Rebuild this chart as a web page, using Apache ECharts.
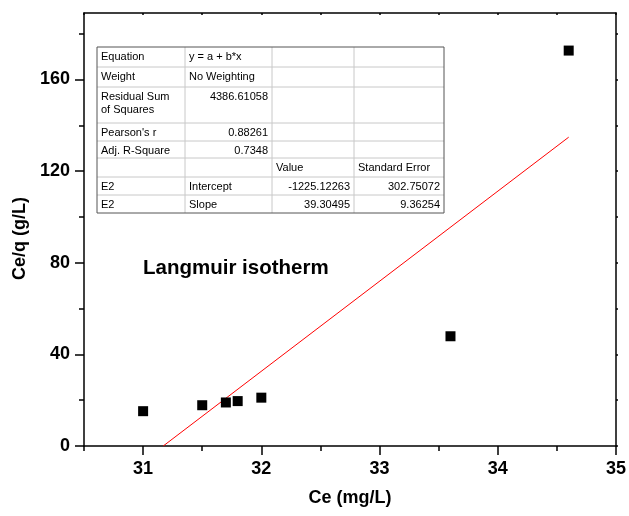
<!DOCTYPE html>
<html>
<head>
<meta charset="utf-8">
<script src="https://cdn.jsdelivr.net/npm/echarts@6/dist/echarts.min.js"></script>
<style>
  html, body { margin: 0; padding: 0; background: #fff; }
  #chart { width: 629px; height: 516px; }
</style>
</head>
<body>
<div id="chart"></div>
<script>
// measured points (Ce, Ce/q)
const ceValues = [31.0, 31.5, 31.7, 31.8, 32.0, 33.6, 34.6]
const ceqValues = [15.2, 17.8, 19.0, 19.6, 21.1, 47.9, 172.6]
// linear fit end points, y = -1225.12263 + 39.30495 x, clipped at y = 0
const fitX = [31.17, 34.6]
const fitY = [0, 134.8]
// ticks
const xMajorTicks = [31, 32, 33, 34, 35]
const xMinorTicks = [30.5, 31.5, 32.5, 33.5, 34.5]
const yMajorTicks = [0, 40, 80, 120, 160]
const yMinorTicks = [20, 60, 100, 140, 180]
// fit report table
const tableRows = [
  ['Equation', 'y = a + b*x', '', ''],
  ['Weight', 'No Weighting', '', ''],
  ['Residual Sum\nof Squares', '4386.61058', '', ''],
  ["Pearson's r", '0.88261', '', ''],
  ['Adj. R-Square', '0.7348', '', ''],
  ['', '', 'Value', 'Standard Error'],
  ['E2', 'Intercept', '-1225.12263', '302.75072'],
  ['E2', 'Slope', '39.30495', '9.36254'],
]

const font = 'Liberation Sans, Arial, sans-serif'
const colEdges = [97, 185, 272, 354, 444]
const rowEdges = [47, 67, 87, 123, 141, 158, 177, 195, 213]

function tableGraphic() {
  const els = []
  // inner lines
  for (let i = 1; i < rowEdges.length - 1; i++) {
    els.push({
      type: 'line',
      shape: { x1: colEdges[0], y1: rowEdges[i], x2: colEdges[4], y2: rowEdges[i] },
      style: { stroke: '#c8c8c8', lineWidth: 1 },
    })
  }
  for (let j = 1; j < colEdges.length - 1; j++) {
    els.push({
      type: 'line',
      shape: { x1: colEdges[j], y1: rowEdges[0], x2: colEdges[j], y2: rowEdges[rowEdges.length - 1] },
      style: { stroke: '#c8c8c8', lineWidth: 1 },
    })
  }
  els.push({
    type: 'rect',
    shape: {
      x: colEdges[0], y: rowEdges[0],
      width: colEdges[4] - colEdges[0], height: rowEdges[rowEdges.length - 1] - rowEdges[0],
    },
    style: { fill: 'none', stroke: '#555', lineWidth: 1 },
  })
  tableRows.forEach((row, r) => {
    row.forEach((txt, c) => {
      if (!txt) return
      const isNum = /^-?[\d.]+$/.test(txt)
      els.push({
        type: 'text',
        x: isNum ? colEdges[c + 1] - 4 : colEdges[c] + 4,
        y: rowEdges[r] + 3,
        style: {
          text: txt,
          fill: '#000',
          font: '11px ' + font,
          lineHeight: 13,
          textAlign: isNum ? 'right' : 'left',
          textVerticalAlign: 'top',
        },
      })
    })
  })
  return els
}

const xMin = 30.5
const xMax = 35
const yMin = 0
const yMax = 189

const labelStyle = { color: '#000', fontFamily: font, fontWeight: 'bold', fontSize: 18 }
const lineStyle = { color: '#000', width: 1.5 }

const myChart = echarts.init(document.getElementById('chart'))
const option = {
  animation: false,
  grid: { left: 84, right: 11, top: 13, bottom: 70 },
  xAxis: [
    {
      type: 'value',
      min: xMin,
      max: xMax,
      name: 'Ce (mg/L)',
      nameLocation: 'middle',
      nameGap: 43,
      nameTextStyle: labelStyle,
      axisLine: { onZero: false, lineStyle: lineStyle },
      axisTick: { customValues: xMajorTicks, length: 9, lineStyle: lineStyle },
      axisLabel: Object.assign({ customValues: xMajorTicks, margin: 14 }, labelStyle),
      splitLine: { show: false },
    },
    {
      type: 'value',
      min: xMin,
      max: xMax,
      position: 'bottom',
      axisLine: { show: false },
      axisTick: { customValues: xMinorTicks, length: 5, lineStyle: lineStyle },
      axisLabel: { show: false },
      splitLine: { show: false },
    },
    {
      type: 'value',
      min: xMin,
      max: xMax,
      position: 'top',
      axisLine: { onZero: false, lineStyle: lineStyle },
      axisTick: { customValues: xMajorTicks.concat(xMinorTicks), inside: true, length: 2, lineStyle: lineStyle },
      axisLabel: { show: false },
      splitLine: { show: false },
    },
  ],
  yAxis: [
    {
      type: 'value',
      min: yMin,
      max: yMax,
      name: 'Ce/q (g/L)',
      nameLocation: 'middle',
      nameGap: 48,
      nameTextStyle: Object.assign({ padding: [0, 18, 0, 0] }, labelStyle),
      axisLine: { onZero: false, lineStyle: lineStyle },
      axisTick: { customValues: yMajorTicks, length: 9, lineStyle: lineStyle },
      axisLabel: Object.assign({ customValues: yMajorTicks, margin: 14 }, labelStyle),
      splitLine: { show: false },
    },
    {
      type: 'value',
      min: yMin,
      max: yMax,
      position: 'left',
      axisLine: { show: false },
      axisTick: { customValues: yMinorTicks, length: 5, lineStyle: lineStyle },
      axisLabel: { show: false },
      splitLine: { show: false },
    },
    {
      type: 'value',
      min: yMin,
      max: yMax,
      position: 'right',
      axisLine: { onZero: false, lineStyle: lineStyle },
      axisTick: { customValues: yMajorTicks.concat(yMinorTicks), inside: false, length: 2, lineStyle: lineStyle },
      axisLabel: { show: false },
      splitLine: { show: false },
    },
  ],
  series: [
    {
      name: 'fit',
      type: 'line',
      xAxisIndex: 0,
      yAxisIndex: 0,
      showSymbol: false,
      symbol: 'none',
      lineStyle: { color: '#ff0000', width: 1 },
      data: fitX.map((x, i) => [x, fitY[i]]),
      z: 2,
    },
    {
      name: 'data',
      type: 'scatter',
      xAxisIndex: 0,
      yAxisIndex: 0,
      symbol: 'rect',
      symbolSize: 10,
      itemStyle: { color: '#000', opacity: 1 },
      data: ceValues.map((x, i) => [x, ceqValues[i]]),
      z: 3,
    },
  ],
  graphic: tableGraphic().concat([
    {
      type: 'text',
      x: 143,
      y: 258,
      style: {
        text: 'Langmuir isotherm',
        fill: '#000',
        font: 'bold 20.5px ' + font,
        textVerticalAlign: 'top',
      },
    },
  ]),
}
myChart.setOption(option)
</script>
</body>
</html>
